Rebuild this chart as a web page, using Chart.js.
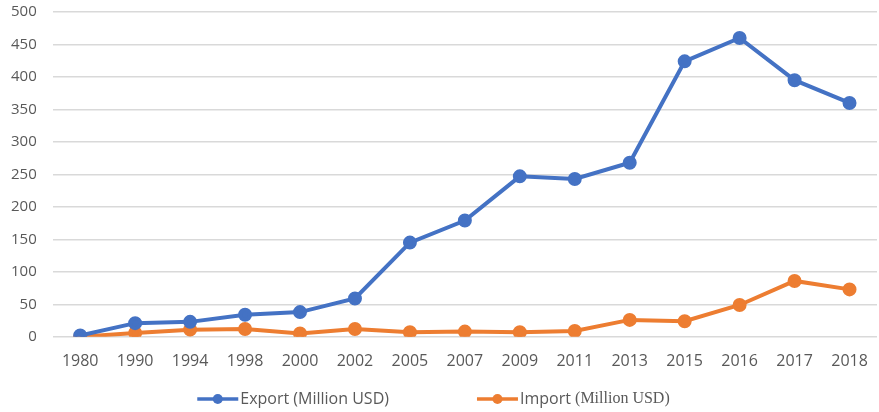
<!DOCTYPE html>
<html lang="en">
<head>
  <meta charset="UTF-8" />
  <title>Export / Import</title>
  <script src="https://cdn.jsdelivr.net/npm/chart.js"></script>
  <style>
    html, body { margin: 0; padding: 0; background: #fff; }
    .wrap { width: 879px; height: 412px; }
  </style>
</head>
<body>
  <div class="wrap"><canvas id="chart"></canvas></div>
  <script>
    // data
    const years = ['1980', '1990', '1994', '1998', '2000', '2002', '2005', '2007', '2009', '2011', '2013', '2015', '2016', '2017', '2018'];
    const exportVals = [2, 21, 23, 34, 38, 59, 145, 179, 247, 243, 268, 424, 460, 395, 360];
    const importVals = [0, 6, 11, 12, 5, 12, 7, 8, 7, 9, 26, 24, 49, 86, 73];

    const blue = '#4472c4';
    const orange = '#ed7d31';
    const grey = '#595959';

    // legend drawn by hand: line + dot marker, wide gap between the two entries
    // (the Import label in the original mixes a sans and a serif font)
    const bottomLegend = {
      id: 'bottomLegend',
      afterDraw(chart) {
        const ctx = chart.ctx;
        const sans = '16px "Open Sans"';
        const serif = '16px "Liberation Serif"';
        const items = chart.data.datasets.map((ds, i) => {
          const parts = i === 0
            ? [[ds.label, sans]]
            : [[ds.label.slice(0, 7), sans], [ds.label.slice(7), serif]];
          let w = 0;
          parts.forEach(p => { ctx.font = p[1]; w += ctx.measureText(p[0]).width; });
          return { color: ds.borderColor, parts, w: 43 + w };
        });
        const gap = 88;
        const total = items.reduce((s, it) => s + it.w, 0) + gap * (items.length - 1);
        let x = (chart.width - total) / 2 - 6;
        const y = 399;
        ctx.save();
        items.forEach(it => {
          ctx.strokeStyle = it.color;
          ctx.lineWidth = 3.5;
          ctx.beginPath();
          ctx.moveTo(x, y); ctx.lineTo(x + 41, y);
          ctx.stroke();
          ctx.fillStyle = it.color;
          ctx.beginPath();
          ctx.arc(x + 20.5, y, 5, 0, Math.PI * 2);
          ctx.fill();
          let tx = x + 43;
          ctx.fillStyle = grey;
          ctx.textBaseline = 'middle';
          it.parts.forEach(p => {
            ctx.font = p[1];
            ctx.fillText(p[0], tx, y);
            tx += ctx.measureText(p[0]).width;
          });
          x += it.w + gap;
        });
        ctx.restore();
      }
    };

    new Chart(document.getElementById('chart'), {
      type: 'line',
      data: {
        labels: years,
        datasets: [
          {
            label: 'Export (Million USD)',
            data: exportVals,
            borderColor: blue,
            backgroundColor: blue,
            borderWidth: 4,
            pointRadius: 5,
            pointHoverRadius: 5,
            tension: 0
          },
          {
            label: 'Import (Million USD)',
            data: importVals,
            borderColor: orange,
            backgroundColor: orange,
            borderWidth: 4,
            pointRadius: 5,
            pointHoverRadius: 5,
            tension: 0
          }
        ]
      },
      options: {
        responsive: true,
        maintainAspectRatio: false,
        animation: false,
        layout: { autoPadding: false, padding: { left: -5, right: 2, top: 12, bottom: 34 } },
        scales: {
          x: {
            offset: true,
            grid: { display: false },
            border: { display: false },
            ticks: { color: grey, font: { family: 'Open Sans', size: 16 }, padding: 7, maxRotation: 0 }
          },
          y: {
            min: 0,
            max: 500,
            ticks: { stepSize: 50, color: grey, font: { family: 'Open Sans', size: 15 }, padding: 16 },
            grid: { color: '#d9d9d9', lineWidth: 1.5, drawTicks: false },
            border: { display: false },
            // don't let the tick padding push the plot down
            afterFit(scale) {
              scale.paddingTop = 0;
              scale.paddingBottom = 0;
            }
          }
        },
        plugins: {
          legend: { display: false },
          tooltip: { enabled: false }
        }
      },
      plugins: [bottomLegend]
    });
  </script>
</body>
</html>
